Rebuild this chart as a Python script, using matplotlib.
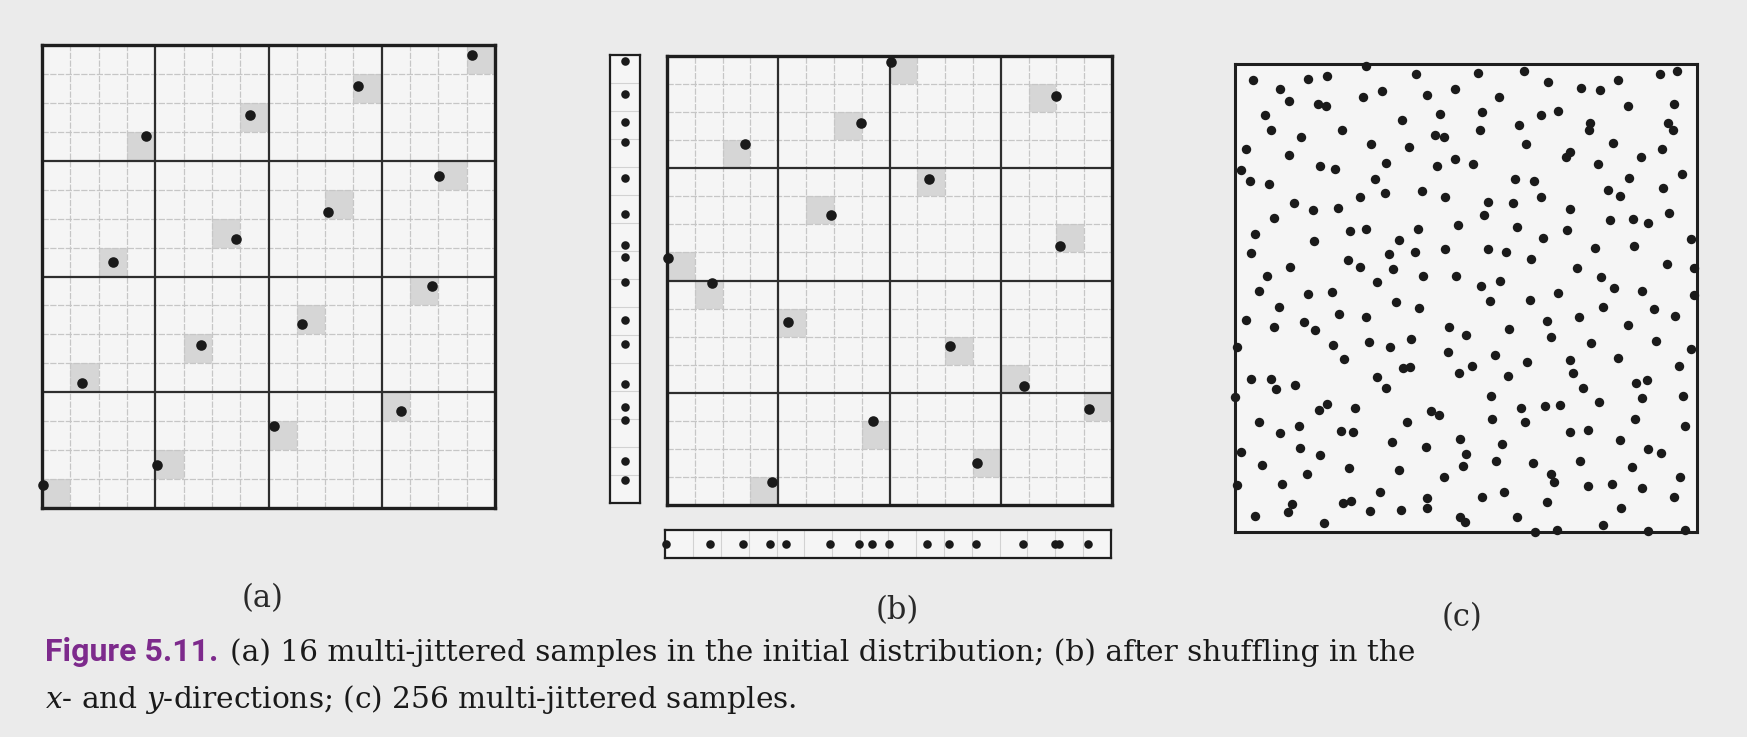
import matplotlib
matplotlib.use('Agg')
import matplotlib.pyplot as plt
from matplotlib.patches import Rectangle
import numpy as np

# ---------------- data ----------------
# (a) 16 multi-jittered samples, canonical arrangement (unit square)
a_x = [0.003, 0.254, 0.513, 0.792, 0.088, 0.351, 0.574, 0.862,
       0.157, 0.429, 0.631, 0.876, 0.230, 0.460, 0.697, 0.949]
a_y = [0.049, 0.093, 0.177, 0.210, 0.271, 0.353, 0.398, 0.480,
       0.531, 0.581, 0.639, 0.718, 0.803, 0.848, 0.912, 0.978]

# (b) after shuffling in x and y
b_x = [0.002, 0.101, 0.175, 0.236, 0.271, 0.369, 0.436, 0.464,
       0.503, 0.588, 0.637, 0.697, 0.803, 0.874, 0.884, 0.948]
b_y = [0.550, 0.494, 0.805, 0.051, 0.4075, 0.645, 0.850, 0.186,
       0.987, 0.726, 0.354, 0.094, 0.266, 0.912, 0.577, 0.214]

# (c) 256 multi-jittered samples (by quadrant)
c_x = [
    # upper-left
    0.284, 0.392, 0.200, 0.157, 0.040, 0.477, 0.097, 0.319, 0.415, 0.278, 0.116, 0.180, 0.196, 0.065, 0.444, 0.361,
    0.232, 0.078, 0.142, 0.433, 0.452, 0.295, 0.376, 0.024, 0.117, 0.477, 0.327, 0.437, 0.185, 0.217, 0.014, 0.032,
    0.073, 0.302, 0.405, 0.324, 0.271, 0.455, 0.128, 0.168, 0.223, 0.085, 0.483, 0.284, 0.249, 0.397, 0.044, 0.354,
    0.172, 0.034, 0.334, 0.389, 0.455, 0.245, 0.271, 0.118, 0.342, 0.069, 0.406, 0.478, 0.307, 0.051, 0.157, 0.210,
    # upper-right
    0.527, 0.626, 0.677, 0.830, 0.920, 0.957, 0.749, 0.791, 0.572, 0.850, 0.951, 0.535, 0.662, 0.699, 0.530, 0.615,
    0.768, 0.766, 0.938, 0.949, 0.629, 0.818, 0.925, 0.726, 0.716, 0.879, 0.515, 0.786, 0.968, 0.605, 0.647, 0.852,
    0.926, 0.808, 0.833, 0.662, 0.548, 0.601, 0.725, 0.540, 0.939, 0.812, 0.861, 0.895, 0.610, 0.718, 0.988, 0.666,
    0.548, 0.586, 0.780, 0.864, 0.641, 0.934, 0.740, 0.994, 0.793, 0.574, 0.532, 0.820, 0.882, 0.700, 0.993,
    # lower-left
    0.348, 0.399, 0.096, 0.024, 0.225, 0.284, 0.084, 0.149, 0.174, 0.463, 0.499, 0.005, 0.212, 0.290, 0.335, 0.382,
    0.460, 0.235, 0.364, 0.379, 0.484, 0.035, 0.077, 0.088, 0.130, 0.307, 0.326, 0.001, 0.200, 0.182, 0.260, 0.425,
    0.442, 0.051, 0.372, 0.139, 0.097, 0.229, 0.255, 0.488, 0.339, 0.413, 0.141, 0.012, 0.185, 0.501, 0.058, 0.247,
    0.355, 0.494, 0.156, 0.453, 0.004, 0.101, 0.314, 0.416, 0.123, 0.115, 0.234, 0.250, 0.415, 0.359, 0.293, 0.043,
    0.193, 0.487, 0.498,
    # lower-right
    0.551, 0.639, 0.797, 0.907, 0.953, 0.745, 0.675, 0.850, 0.594, 0.683, 0.771, 0.912, 0.987, 0.563, 0.633, 0.725,
    0.830, 0.514, 0.962, 0.590, 0.732, 0.869, 0.892, 0.753, 0.554, 0.882, 0.970, 0.619, 0.671, 0.703, 0.787, 0.556,
    0.628, 0.865, 0.726, 0.764, 0.974, 0.577, 0.833, 0.895, 0.921, 0.566, 0.646, 0.747, 0.859, 0.683, 0.691, 0.964,
    0.764, 0.817, 0.880, 0.583, 0.535, 0.675, 0.950, 0.835, 0.610, 0.796, 0.649, 0.698, 0.974, 0.895,
]
c_y = [
    # upper-left
    0.995, 0.979, 0.974, 0.969, 0.966, 0.947, 0.947, 0.943, 0.934, 0.929, 0.922, 0.915, 0.910, 0.892, 0.893, 0.880,
    0.860, 0.858, 0.843, 0.848, 0.844, 0.828, 0.823, 0.819, 0.806, 0.798, 0.788, 0.781, 0.781, 0.776, 0.773, 0.751,
    0.744, 0.754, 0.729, 0.724, 0.715, 0.715, 0.703, 0.687, 0.692, 0.670, 0.656, 0.648, 0.643, 0.647, 0.636, 0.625,
    0.621, 0.596, 0.593, 0.599, 0.604, 0.581, 0.567, 0.567, 0.561, 0.546, 0.546, 0.547, 0.535, 0.514, 0.509, 0.513,
    # upper-right
    0.981, 0.986, 0.961, 0.966, 0.979, 0.986, 0.949, 0.944, 0.930, 0.910, 0.915, 0.897, 0.891, 0.899, 0.860, 0.869,
    0.873, 0.858, 0.873, 0.860, 0.830, 0.831, 0.819, 0.811, 0.801, 0.802, 0.786, 0.787, 0.766, 0.755, 0.749, 0.756,
    0.735, 0.730, 0.719, 0.716, 0.705, 0.702, 0.691, 0.678, 0.682, 0.666, 0.669, 0.660, 0.651, 0.645, 0.627, 0.629,
    0.605, 0.598, 0.606, 0.611, 0.583, 0.573, 0.565, 0.564, 0.545, 0.537, 0.525, 0.521, 0.516, 0.511, 0.506,
    # lower-left
    0.492, 0.479, 0.481, 0.454, 0.465, 0.459, 0.439, 0.449, 0.432, 0.437, 0.420, 0.395, 0.400, 0.406, 0.396, 0.413,
    0.385, 0.370, 0.350, 0.353, 0.339, 0.326, 0.327, 0.305, 0.314, 0.331, 0.307, 0.289, 0.273, 0.260, 0.264, 0.259,
    0.250, 0.234, 0.235, 0.226, 0.212, 0.216, 0.214, 0.198, 0.192, 0.182, 0.179, 0.172, 0.165, 0.166, 0.143, 0.137,
    0.133, 0.141, 0.123, 0.118, 0.100, 0.102, 0.085, 0.073, 0.059, 0.042, 0.063, 0.066, 0.051, 0.048, 0.045, 0.035,
    0.019, 0.031, 0.022,
    # lower-right
    0.494, 0.495, 0.480, 0.476, 0.462, 0.460, 0.451, 0.442, 0.433, 0.417, 0.404, 0.409, 0.392, 0.378, 0.364, 0.368,
    0.371, 0.355, 0.354, 0.334, 0.340, 0.318, 0.324, 0.308, 0.290, 0.287, 0.291, 0.266, 0.269, 0.272, 0.278, 0.242,
    0.236, 0.241, 0.213, 0.219, 0.227, 0.189, 0.196, 0.177, 0.168, 0.152, 0.148, 0.151, 0.138, 0.125, 0.106, 0.117,
    0.099, 0.103, 0.095, 0.086, 0.074, 0.065, 0.075, 0.052, 0.032, 0.015, 0.001, 0.004, 0.005, 0.002,
]

n_sub = 16          # fine grid cells per side
n_coarse = 4        # coarse grid cells per side

panel_labels = ['(a)', '(b)', '(c)']
caption_head = 'Figure 5.11.'
caption_line1 = '(a) 16 multi-jittered samples in the initial distribution; (b) after shuffling in the'
caption_line2 = r'$x$- and $y$-directions; (c) 256 multi-jittered samples.'

# ---------------- styling ----------------
W, H = 1747, 737
BG = '#ebebeb'
PANEL = '#f5f5f5'
INK = '#1a1a1a'
SHADE = '#d6d6d6'
FINE = '#c6c6c6'
COARSE = '#2e2e2e'
PURPLE = '#7d2a8c'

plt.rcParams['mathtext.fontset'] = 'custom'
plt.rcParams['mathtext.rm'] = 'DejaVu Serif'
plt.rcParams['mathtext.it'] = 'DejaVu Serif:italic'

fig = plt.figure(figsize=(W / 100, H / 100), dpi=100, facecolor=BG)


def rect(l, t, r, b):
    return [l / W, 1 - b / H, (r - l) / W, (b - t) / H]


def frame(ax, lw):
    ax.set_xlim(0, 1)
    ax.set_ylim(0, 1)
    ax.set_xticks([])
    ax.set_yticks([])
    ax.set_facecolor(PANEL)
    for s in ax.spines.values():
        s.set_linewidth(lw)
        s.set_color('#1e1e1e')
        s.set_zorder(6)


def grid_panel(ax, xs, ys):
    frame(ax, 2.4)
    xs = np.asarray(xs)
    ys = np.asarray(ys)
    ix = np.clip((xs * n_sub).astype(int), 0, n_sub - 1)
    iy = np.clip((ys * n_sub).astype(int), 0, n_sub - 1)
    for i, j in zip(ix, iy):
        ax.add_patch(Rectangle((i / n_sub, j / n_sub), 1 / n_sub, 1 / n_sub,
                               facecolor=SHADE, edgecolor='none', zorder=1))
    step = n_sub // n_coarse
    fine = [k / n_sub for k in range(1, n_sub) if k % step]
    coarse = [k / n_sub for k in range(step, n_sub, step)]
    ax.vlines(fine, 0, 1, colors=FINE, lw=0.9, linestyles=(0, (5, 1.2)), zorder=2)
    ax.hlines(fine, 0, 1, colors=FINE, lw=0.9, linestyles=(0, (5, 1.2)), zorder=2)
    ax.vlines(coarse, 0, 1, colors=COARSE, lw=1.6, zorder=3)
    ax.hlines(coarse, 0, 1, colors=COARSE, lw=1.6, zorder=3)
    ax.scatter(xs, ys, s=58, c=INK, linewidths=0, zorder=7, clip_on=False)


# (a)
ax_a = fig.add_axes(rect(42, 45, 495, 508))
grid_panel(ax_a, a_x, a_y)

# (b)
ax_b = fig.add_axes(rect(667, 56, 1112, 505))
grid_panel(ax_b, b_x, b_y)

# (b) y projections (vertical strip)
ax_bv = fig.add_axes(rect(610, 55, 640, 503))
frame(ax_bv, 1.6)
ax_bv.hlines([k / n_sub for k in range(1, n_sub)], 0, 1, colors='#d2d2d2', lw=0.8, zorder=2)
ax_bv.scatter(np.full(len(b_y), 0.5), b_y, s=38, c=INK, linewidths=0, zorder=7, clip_on=False)

# (b) x projections (horizontal strip)
ax_bh = fig.add_axes(rect(665, 530, 1111, 558))
frame(ax_bh, 1.6)
ax_bh.vlines([k / n_sub for k in range(1, n_sub)], 0, 1, colors='#d2d2d2', lw=0.8, zorder=2)
ax_bh.scatter(b_x, np.full(len(b_x), 0.5), s=38, c=INK, linewidths=0, zorder=7, clip_on=False)

# (c)
ax_c = fig.add_axes(rect(1235, 64, 1697, 532))
frame(ax_c, 2.2)
ax_c.scatter(c_x, c_y, s=46, c=INK, linewidths=0, zorder=7, clip_on=False)

# panel labels
for lab, (px, py) in zip(panel_labels, [(263, 599), (897, 611), (1462, 618)]):
    fig.text(px / W, 1 - py / H, lab, ha='center', va='center',
             family='DejaVu Serif', fontsize=22, color='#2a2a2a')

# caption
renderer = fig.canvas.get_renderer()
t1 = fig.text(45 / W, 1 - 661 / H, caption_head, family='Roboto', weight='bold',
              fontsize=23, color=PURPLE, va='baseline', ha='left')
bb1 = t1.get_window_extent(renderer)
x2 = bb1.x1 + 12
t2 = fig.text(x2 / W, 1 - 661 / H, caption_line1, family='DejaVu Serif',
              fontsize=18, color='#1a1a1a', va='baseline', ha='left')
w2 = t2.get_window_extent(renderer).width
size = 18 * (1416 - x2) / w2
t2.set_fontsize(size)
fig.text(45 / W, 1 - 708 / H, caption_line2, family='DejaVu Serif',
         fontsize=size, color='#1a1a1a', va='baseline', ha='left')

fig.savefig('out.png', dpi=100, facecolor=BG)
